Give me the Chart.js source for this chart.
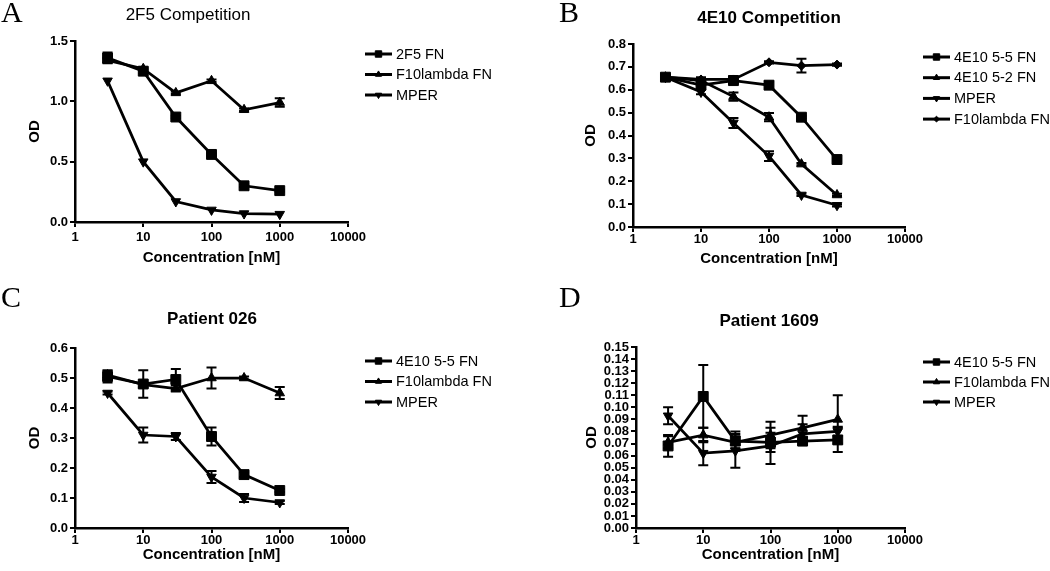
<!DOCTYPE html>
<html>
<head>
<meta charset="utf-8">
<script src="https://cdn.jsdelivr.net/npm/chart.js@4.4.1/dist/chart.umd.min.js"></script>
<style>
  body { margin: 0; background: #fff; }
  #wrap { position: relative; width: 1050px; height: 571px; overflow: hidden; }
  canvas { position: absolute; }
  .letter { position: absolute; font-family: "Liberation Serif", "DejaVu Serif", serif; font-size: 30px; line-height: 1; color: #000; }
</style>
</head>
<body>
<div id="wrap">
  <canvas id="panelA" width="525" height="285" style="left:0;top:0"></canvas>
  <canvas id="panelB" width="525" height="285" style="left:525px;top:0"></canvas>
  <canvas id="panelC" width="525" height="286" style="left:0;top:285px"></canvas>
  <canvas id="panelD" width="525" height="286" style="left:525px;top:285px"></canvas>
  <div class="letter" style="left:1px;top:-3px">A</div>
  <div class="letter" style="left:559px;top:-3px">B</div>
  <div class="letter" style="left:1px;top:282px">C</div>
  <div class="letter" style="left:559px;top:282px">D</div>
</div>
<script>
// concentrations [nM] and axis ticks
const concentrations = [3, 10, 30, 100, 300, 1000];
const xTicks = [1, 10, 100, 1000, 10000];

// A: 2F5 Competition
const a2F5 = [1.36, 1.25, 0.87, 0.56, 0.30, 0.26];
const a2F5Err = [0.045, 0.02, 0.01, 0.01, 0.01, 0.01];
const aF10 = [1.34, 1.27, 1.07, 1.17, 0.93, 0.99];
const aF10Err = [0.02, 0.01, 0.01, 0.01, 0.01, 0.035];
const aMPER = [1.17, 0.50, 0.17, 0.10, 0.07, 0.065];
const aMPERErr = [0, 0, 0, 0, 0, 0];
const yTicksA = [0, 0.5, 1.0, 1.5];

// B: 4E10 Competition
const b55 = [0.655, 0.62, 0.64, 0.62, 0.48, 0.295];
const b55Err = [0.015, 0.015, 0.01, 0.015, 0.005, 0.005];
const b52 = [0.655, 0.64, 0.57, 0.48, 0.275, 0.14];
const b52Err = [0.01, 0.01, 0.018, 0.018, 0.005, 0.005];
const bMPER = [0.655, 0.59, 0.455, 0.31, 0.14, 0.095];
const bMPERErr = [0.01, 0.01, 0.022, 0.021, 0.005, 0.005];
const bF10 = [0.655, 0.645, 0.645, 0.72, 0.705, 0.71];
const bF10Err = [0.01, 0.01, 0.015, 0.005, 0.03, 0.005];
const yTicksB = [0, 0.1, 0.2, 0.3, 0.4, 0.5, 0.6, 0.7, 0.8];

// C: Patient 026
const c55 = [0.505, 0.48, 0.495, 0.305, 0.178, 0.125];
const c55Err = [0.02, 0.046, 0.035, 0.03, 0.008, 0.005];
const cF10 = [0.51, 0.478, 0.465, 0.50, 0.50, 0.45];
const cF10Err = [0.015, 0.01, 0.01, 0.035, 0.005, 0.02];
const cMPER = [0.45, 0.31, 0.305, 0.17, 0.10, 0.085];
const cMPERErr = [0.005, 0.025, 0.012, 0.02, 0.013, 0.005];
const yTicksC = [0, 0.1, 0.2, 0.3, 0.4, 0.5, 0.6];

// D: Patient 1609
const d55 = [0.068, 0.109, 0.072, 0.071, 0.072, 0.073];
const d55Err = [0.009, 0.026, 0.008, 0.008, 0.003, 0.01];
const dF10 = [0.071, 0.077, 0.071, 0.077, 0.083, 0.090];
const dF10Err = [0.005, 0.006, 0.005, 0.011, 0.01, 0.02];
const dMPER = [0.093, 0.062, 0.064, 0.068, 0.078, 0.080];
const dMPERErr = [0.007, 0.01, 0.014, 0.015, 0.008, 0.004];
const yTicksD = [0, 0.01, 0.02, 0.03, 0.04, 0.05, 0.06, 0.07, 0.08, 0.09, 0.10, 0.11, 0.12, 0.13, 0.14, 0.15];

const FONT = '"Liberation Sans", Arial, sans-serif';
Chart.defaults.font.family = FONT;
Chart.defaults.color = '#000';

const MARKERS = {
  square: { pointStyle: 'rect', pointRadius: 7, pointRotation: 0 },
  up: { pointStyle: 'triangle', pointRadius: 5.5, pointRotation: 0 },
  down: { pointStyle: 'triangle', pointRadius: 5.5, pointRotation: 180 },
  diamond: { pointStyle: 'rectRot', pointRadius: 4.5, pointRotation: 0 }
};

function series(label, values, errors, marker) {
  const m = MARKERS[marker];
  return {
    label: label,
    data: concentrations.map((c, i) => ({ x: c, y: values[i] })),
    errors: errors,
    showLine: true,
    borderColor: '#000',
    backgroundColor: '#000',
    borderWidth: 2.75,
    pointBorderWidth: 1,
    pointStyle: m.pointStyle,
    pointRadius: m.pointRadius,
    pointRotation: m.pointRotation,
    legendRadius: m.pointRadius * 0.65
  };
}

// error bars, panel title and line+marker legend
const panelExtras = {
  id: 'panelExtras',
  afterDatasetsDraw(chart) {
    const ctx = chart.ctx, xs = chart.scales.x, ys = chart.scales.y;
    ctx.save();
    ctx.strokeStyle = '#000';
    ctx.lineWidth = 2;
    chart.data.datasets.forEach(ds => {
      ds.errors.forEach((e, i) => {
        if (!e) return;
        const px = xs.getPixelForValue(ds.data[i].x);
        const top = ys.getPixelForValue(ds.data[i].y + e);
        const bot = ys.getPixelForValue(ds.data[i].y - e);
        ctx.beginPath();
        ctx.moveTo(px, top); ctx.lineTo(px, bot);
        ctx.moveTo(px - 5, top); ctx.lineTo(px + 5, top);
        ctx.moveTo(px - 5, bot); ctx.lineTo(px + 5, bot);
        ctx.stroke();
      });
    });
    ctx.restore();
  },
  afterDraw(chart, args, opts) {
    const ctx = chart.ctx;
    ctx.save();
    ctx.fillStyle = '#000';
    ctx.strokeStyle = '#000';
    ctx.textAlign = 'center';
    ctx.textBaseline = 'middle';
    ctx.font = (opts.titleBold ? 'bold ' : '') + '17px ' + FONT;
    ctx.fillText(opts.title, opts.titleX, opts.titleY);

    ctx.textAlign = 'left';
    ctx.font = '14.5px ' + FONT;
    chart.data.datasets.forEach((ds, i) => {
      const cy = opts.legendY + i * opts.legendGap;
      ctx.lineWidth = 3;
      ctx.beginPath();
      ctx.moveTo(opts.legendX, cy);
      ctx.lineTo(opts.legendX + 27, cy);
      ctx.stroke();
      ctx.lineWidth = 1;
      Chart.helpers.drawPoint(ctx, {
        pointStyle: ds.pointStyle, radius: ds.legendRadius,
        rotation: ds.pointRotation, borderWidth: 1
      }, opts.legendX + 13.5, cy);
      ctx.fillText(ds.label, opts.legendX + 31, cy + 0.5);
    });
    ctx.restore();
  }
};

function makePanel(id, p) {
  const W = 75;
  const H = p.xTitleY + 9 - p.area.bottom;
  new Chart(document.getElementById(id), {
    type: 'scatter',
    data: { datasets: p.datasets },
    plugins: [panelExtras],
    options: {
      responsive: false,
      animation: false,
      devicePixelRatio: 1,
      layout: {
        padding: {
          left: p.area.left - W,
          top: p.area.top,
          right: p.width - p.area.right,
          bottom: p.height - p.area.bottom - H
        }
      },
      plugins: {
        legend: { display: false },
        tooltip: { enabled: false },
        panelExtras: p.extras
      },
      scales: {
        x: {
          type: 'logarithmic',
          min: 1,
          max: 10000,
          afterBuildTicks: s => { s.ticks = xTicks.map(v => ({ value: v })); },
          afterFit: s => { s.height = H; },
          ticks: {
            callback: v => String(v),
            color: '#000',
            font: { size: 13, weight: 'bold' },
            padding: p.xTickPad,
            autoSkip: false,
            maxRotation: 0
          },
          grid: { drawOnChartArea: false, drawTicks: true, tickLength: 5, color: '#000', lineWidth: 2 },
          border: { display: true, color: '#000', width: 2.5 },
          title: {
            display: true, text: 'Concentration [nM]', color: '#000',
            font: { size: 15, weight: 'bold' }, padding: { top: 0, bottom: 0 }
          }
        },
        y: {
          min: p.yTicks[0],
          max: p.yTicks[p.yTicks.length - 1],
          afterBuildTicks: s => { s.ticks = p.yTicks.map(v => ({ value: v })); },
          afterFit: s => { s.width = W; },
          ticks: {
            callback: v => v.toFixed(p.decimals),
            color: '#000',
            font: { size: 13, weight: 'bold' },
            padding: 2,
            autoSkip: false
          },
          grid: { drawOnChartArea: false, drawTicks: true, tickLength: 5, color: '#000', lineWidth: 2 },
          border: { display: true, color: '#000', width: 2.5 },
          title: {
            display: true, text: 'OD', color: '#000',
            font: { size: 15, weight: 'bold' },
            padding: { top: p.odX - (p.area.left - W) - 9, bottom: 0 }
          }
        }
      }
    }
  });
}

makePanel('panelA', {
  width: 525, height: 285,
  area: { left: 75, top: 41, right: 348, bottom: 222 },
  xTitleY: 258, odX: 35, xTickPad: 3,
  yTicks: yTicksA, decimals: 1,
  datasets: [
    series('2F5 FN', a2F5, a2F5Err, 'square'),
    series('F10lambda FN', aF10, aF10Err, 'up'),
    series('MPER', aMPER, aMPERErr, 'down')
  ],
  extras: { title: '2F5 Competition', titleBold: false, titleX: 188, titleY: 15,
            legendX: 365, legendY: 54, legendGap: 20.5 }
});

makePanel('panelB', {
  width: 525, height: 285,
  area: { left: 108, top: 44, right: 380, bottom: 227 },
  xTitleY: 259, odX: 66, xTickPad: 0,
  yTicks: yTicksB, decimals: 1,
  datasets: [
    series('4E10 5-5 FN', b55, b55Err, 'square'),
    series('4E10 5-2 FN', b52, b52Err, 'up'),
    series('MPER', bMPER, bMPERErr, 'down'),
    series('F10lambda FN', bF10, bF10Err, 'diamond')
  ],
  extras: { title: '4E10 Competition', titleBold: true, titleX: 244, titleY: 18.5,
            legendX: 398, legendY: 57, legendGap: 20.7 }
});

makePanel('panelC', {
  width: 525, height: 286,
  area: { left: 75, top: 63, right: 348, bottom: 243 },
  xTitleY: 270, odX: 35, xTickPad: 0,
  yTicks: yTicksC, decimals: 1,
  datasets: [
    series('4E10 5-5 FN', c55, c55Err, 'square'),
    series('F10lambda FN', cF10, cF10Err, 'up'),
    series('MPER', cMPER, cMPERErr, 'down')
  ],
  extras: { title: 'Patient 026', titleBold: true, titleX: 212, titleY: 34,
            legendX: 365, legendY: 76, legendGap: 20.5 }
});

makePanel('panelD', {
  width: 525, height: 286,
  area: { left: 111, top: 62, right: 380, bottom: 243 },
  xTitleY: 270, odX: 67, xTickPad: 0,
  yTicks: yTicksD, decimals: 2,
  datasets: [
    series('4E10 5-5 FN', d55, d55Err, 'square'),
    series('F10lambda FN', dF10, dF10Err, 'up'),
    series('MPER', dMPER, dMPERErr, 'down')
  ],
  extras: { title: 'Patient 1609', titleBold: true, titleX: 244, titleY: 36.5,
            legendX: 398, legendY: 77, legendGap: 20 }
});
</script>
</body>
</html>
